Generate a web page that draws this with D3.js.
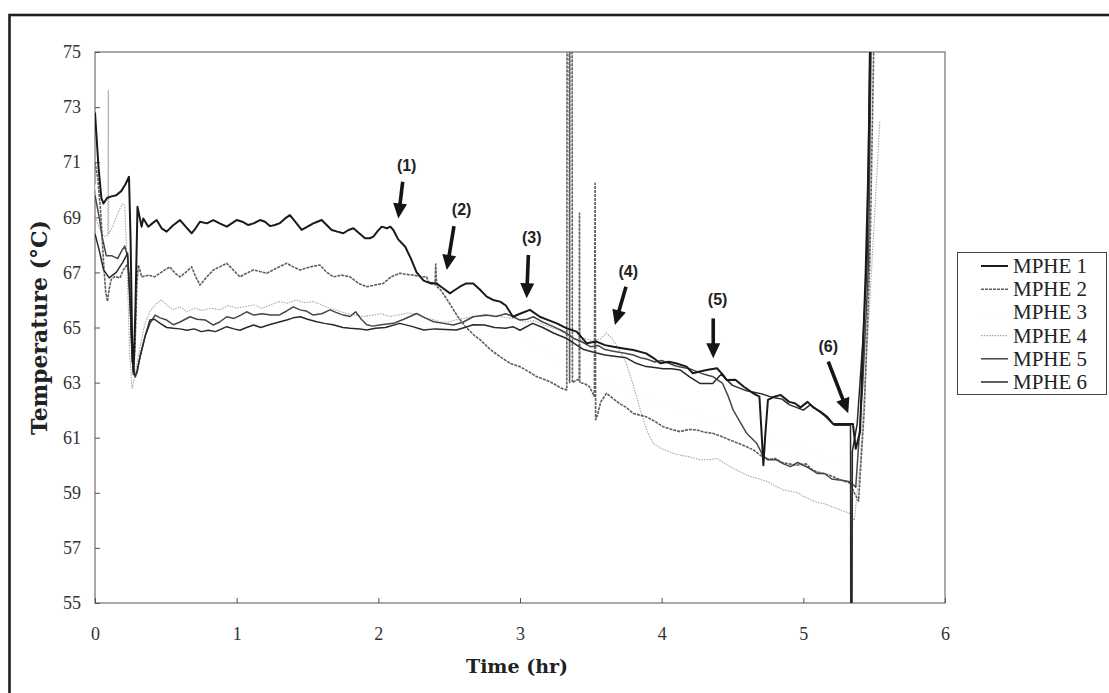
<!DOCTYPE html>
<html>
<head>
<meta charset="utf-8">
<script src="https://cdn.jsdelivr.net/npm/d3@7"></script>
<style>
  html, body { margin: 0; padding: 0; background: #ffffff; }
  svg { display: block; }
</style>
</head>
<body>
<svg id="chart" width="1109" height="693"></svg>
<script>
// ---- data -------------------------------------------------------------
const timeTicks = [0, 1, 2, 3, 4, 5, 6];
const tempTicks = [55, 57, 59, 61, 63, 65, 67, 69, 71, 73, 75];
const seriesNames = ["MPHE 1", "MPHE 2", "MPHE 3", "MPHE 4", "MPHE 5", "MPHE 6"];

// [time (hr), temperature (°C)]
const mphe1 = [[0.000,72.8],[0.010,72.0],[0.025,70.8],[0.045,69.7],[0.060,69.5],[0.085,69.7],[0.110,69.75],[0.150,69.8],[0.185,69.95],[0.215,70.2],[0.240,70.47],[0.252,68.0],[0.262,64.5],[0.272,63.4],[0.285,65.6],[0.300,69.38],[0.329,68.66],[0.341,68.96],[0.376,68.66],[0.405,68.78],[0.435,68.9],[0.470,68.6],[0.506,68.48],[0.550,68.7],[0.600,68.9],[0.640,68.66],[0.682,68.42],[0.710,68.6],[0.741,68.84],[0.790,68.78],[0.835,68.9],[0.880,68.78],[0.930,68.66],[0.965,68.78],[1.000,68.9],[1.040,68.84],[1.082,68.72],[1.120,68.78],[1.165,68.9],[1.200,68.84],[1.235,68.68],[1.270,68.72],[1.306,68.79],[1.340,68.95],[1.376,69.08],[1.420,68.8],[1.459,68.54],[1.500,68.66],[1.541,68.78],[1.570,68.84],[1.600,68.9],[1.635,68.72],[1.671,68.54],[1.710,68.48],[1.753,68.42],[1.790,68.54],[1.824,68.6],[1.865,68.42],[1.906,68.24],[1.940,68.24],[1.965,68.3],[1.995,68.5],[2.024,68.66],[2.060,68.6],[2.085,68.66],[2.106,68.54],[2.140,68.2],[2.190,67.93],[2.230,67.5],[2.270,67.0],[2.320,66.7],[2.360,66.62],[2.410,66.6],[2.450,66.45],[2.506,66.24],[2.540,66.36],[2.576,66.48],[2.620,66.6],[2.670,66.6],[2.720,66.36],[2.765,66.12],[2.810,66.0],[2.860,65.94],[2.900,65.8],[2.950,65.39],[3.000,65.5],[3.070,65.64],[3.140,65.39],[3.200,65.27],[3.260,65.15],[3.330,64.97],[3.400,64.85],[3.470,64.43],[3.540,64.49],[3.600,64.36],[3.660,64.3],[3.730,64.24],[3.800,64.18],[3.890,64.06],[3.940,63.9],[3.990,63.7],[4.050,63.76],[4.100,63.7],[4.176,63.58],[4.220,63.34],[4.270,63.4],[4.317,63.46],[4.390,63.52],[4.430,63.3],[4.460,63.09],[4.520,63.1],[4.580,62.85],[4.650,62.6],[4.690,62.49],[4.705,61.2],[4.718,60.0],[4.730,61.0],[4.750,62.37],[4.800,62.5],[4.840,62.55],[4.900,62.3],[4.940,62.25],[4.980,62.1],[5.030,62.3],[5.070,62.1],[5.120,61.95],[5.170,61.75],[5.210,61.5],[5.280,61.5],[5.350,61.5],[5.370,60.6],[5.400,61.2],[5.440,67.0],[5.460,71.0],[5.475,76.0]];

const mphe2 = [[0.000,71.0],[0.020,70.4],[0.040,69.2],[0.060,67.4],[0.075,66.3],[0.088,65.95],[0.100,66.4],[0.115,66.75],[0.140,66.85],[0.176,66.8],[0.200,67.09],[0.230,67.3],[0.245,66.8],[0.258,64.5],[0.270,63.3],[0.282,64.2],[0.295,66.5],[0.306,67.27],[0.330,66.84],[0.380,66.9],[0.420,66.84],[0.459,66.97],[0.495,67.1],[0.529,67.2],[0.565,66.97],[0.600,66.84],[0.640,67.0],[0.682,67.2],[0.710,66.85],[0.741,66.54],[0.790,66.84],[0.835,67.09],[0.880,67.2],[0.930,67.33],[0.975,67.09],[1.023,66.84],[1.070,66.97],[1.118,67.09],[1.165,67.03],[1.212,66.97],[1.280,67.15],[1.353,67.33],[1.400,67.2],[1.447,67.09],[1.520,67.2],[1.588,67.27],[1.630,67.03],[1.682,66.84],[1.740,66.9],[1.800,66.84],[1.860,66.6],[1.918,66.48],[1.975,66.54],[2.035,66.6],[2.090,66.84],[2.153,66.97],[2.200,66.93],[2.250,66.9],[2.300,66.84],[2.340,66.84],[2.360,66.6],[2.400,66.55],[2.405,67.3],[2.412,66.5],[2.440,66.36],[2.500,65.9],[2.560,65.4],[2.620,65.0],[2.680,64.7],[2.720,64.55],[2.790,64.2],[2.860,63.94],[2.930,63.7],[3.000,63.58],[3.060,63.4],[3.120,63.21],[3.180,63.1],[3.235,62.97],[3.290,62.8],[3.330,62.73],[3.333,80.0],[3.347,80.0],[3.350,63.0],[3.353,80.0],[3.367,80.0],[3.370,63.0],[3.400,63.1],[3.418,63.1],[3.420,69.15],[3.422,63.0],[3.460,62.95],[3.490,62.85],[3.525,62.5],[3.530,70.23],[3.534,61.65],[3.550,61.88],[3.570,62.3],[3.610,62.61],[3.650,62.45],[3.700,62.25],[3.750,62.1],[3.800,61.88],[3.890,61.76],[3.950,61.6],[4.010,61.4],[4.070,61.3],[4.130,61.22],[4.190,61.3],[4.250,61.28],[4.300,61.2],[4.360,61.16],[4.420,61.05],[4.480,60.92],[4.540,60.8],[4.600,60.67],[4.650,60.55],[4.700,60.35],[4.750,60.2],[4.800,60.25],[4.850,60.1],[4.900,60.05],[4.950,60.0],[5.020,60.05],[5.060,59.85],[5.100,59.75],[5.180,59.65],[5.250,59.5],[5.300,59.4],[5.330,59.35],[5.360,59.0],[5.390,58.7],[5.430,62.0],[5.470,67.5],[5.500,76.0]];

const mphe3 = [[0.000,70.2],[0.050,68.9],[0.100,67.9],[0.200,68.3],[0.240,68.0],[0.270,63.6],[0.320,64.3],[0.400,65.4],[0.600,65.3],[0.800,65.2],[1.000,65.3],[1.200,65.4],[1.400,65.6],[1.600,65.5],[1.800,65.3],[2.000,65.2],[2.200,65.3],[2.400,65.2],[2.600,65.2],[2.800,65.3],[3.000,65.2],[3.050,64.6],[3.200,64.0],[3.400,63.4],[3.600,63.0],[3.800,62.6],[4.000,62.2],[4.200,61.9],[4.400,61.6],[4.600,61.2],[4.800,60.9],[5.000,60.6],[5.200,60.2],[5.330,60.0],[5.380,59.5],[5.450,64.0],[5.540,70.2]];

const mphe4 = [[0.000,69.1],[0.030,68.6],[0.060,68.3],[0.090,68.35],[0.094,73.6],[0.097,68.4],[0.120,68.6],[0.150,69.0],[0.175,69.3],[0.195,69.5],[0.210,69.4],[0.225,67.5],[0.245,64.0],[0.262,62.8],[0.280,63.2],[0.300,63.8],[0.330,64.6],[0.353,65.15],[0.390,65.6],[0.435,65.88],[0.470,66.0],[0.510,65.8],[0.553,65.64],[0.600,65.76],[0.650,65.57],[0.700,65.7],[0.760,65.62],[0.820,65.7],[0.880,65.64],[0.940,65.8],[1.000,65.7],[1.060,65.76],[1.120,65.82],[1.180,65.7],[1.240,65.82],[1.300,65.94],[1.360,65.88],[1.420,66.0],[1.480,65.9],[1.540,65.94],[1.600,65.82],[1.660,65.7],[1.720,65.6],[1.780,65.5],[1.840,65.45],[1.900,65.4],[1.960,65.45],[2.020,65.5],[2.080,65.4],[2.140,65.45],[2.200,65.52],[2.260,65.5],[2.320,65.35],[2.380,65.3],[2.440,65.2],[2.500,65.2],[2.560,65.3],[2.620,65.35],[2.680,65.4],[2.740,65.4],[2.800,65.45],[2.860,65.4],[2.920,65.35],[2.980,65.3],[3.040,65.2],[3.100,65.25],[3.160,65.1],[3.220,65.0],[3.280,64.9],[3.340,64.7],[3.400,64.55],[3.460,64.6],[3.520,64.5],[3.570,64.6],[3.610,64.8],[3.650,64.6],[3.700,64.2],[3.750,63.7],[3.800,62.9],[3.850,62.0],[3.900,61.2],[3.940,60.8],[4.000,60.6],[4.050,60.5],[4.100,60.4],[4.150,60.35],[4.200,60.3],[4.270,60.2],[4.330,60.2],[4.390,60.25],[4.450,60.05],[4.500,59.9],[4.560,59.75],[4.620,59.6],[4.690,59.5],[4.750,59.4],[4.800,59.25],[4.860,59.1],[4.920,59.05],[4.960,59.0],[5.010,58.85],[5.050,58.75],[5.100,58.65],[5.150,58.6],[5.200,58.5],[5.250,58.4],[5.300,58.3],[5.330,58.25],[5.360,58.0],[5.400,60.0],[5.470,66.0],[5.540,72.5]];

const mphe5 = [[0.000,69.8],[0.030,69.0],[0.050,68.3],[0.080,67.6],[0.120,67.6],[0.160,67.5],[0.190,67.8],[0.210,67.95],[0.230,67.6],[0.250,65.5],[0.268,63.5],[0.285,63.2],[0.300,63.45],[0.318,63.94],[0.353,64.67],[0.388,65.15],[0.424,65.45],[0.460,65.35],[0.506,65.27],[0.553,65.1],[0.600,65.2],[0.670,65.39],[0.720,65.3],[0.780,65.27],[0.835,65.09],[0.880,65.2],[0.930,65.39],[0.980,65.33],[1.030,65.45],[1.070,65.57],[1.120,65.45],[1.180,65.5],[1.240,65.45],[1.300,65.45],[1.353,65.6],[1.400,65.75],[1.447,65.64],[1.490,65.6],[1.540,65.45],[1.600,65.5],[1.659,65.64],[1.700,65.55],[1.753,65.45],[1.800,65.4],[1.840,65.57],[1.880,65.3],[1.918,65.1],[1.960,65.05],[2.020,65.1],[2.106,65.15],[2.180,65.3],[2.270,65.51],[2.330,65.35],[2.390,65.21],[2.460,65.15],[2.530,65.09],[2.600,65.2],[2.670,65.39],[2.760,65.45],[2.830,65.4],[2.900,65.5],[2.950,65.4],[3.000,65.27],[3.050,65.3],[3.094,65.39],[3.160,65.2],[3.235,65.03],[3.290,64.9],[3.330,64.79],[3.380,64.6],[3.430,64.5],[3.500,64.3],[3.550,64.35],[3.600,64.2],[3.650,64.15],[3.700,64.1],[3.760,64.05],[3.800,64.0],[3.850,63.9],[3.900,63.85],[3.950,63.75],[4.000,63.8],[4.050,63.7],[4.100,63.6],[4.150,63.55],[4.200,63.5],[4.250,63.4],[4.300,63.3],[4.364,63.21],[4.430,62.97],[4.470,62.5],[4.505,62.0],[4.550,61.6],[4.600,61.16],[4.670,60.8],[4.720,60.3],[4.760,60.2],[4.810,60.2],[4.860,60.05],[4.910,59.95],[4.960,60.1],[5.000,60.0],[5.040,59.9],[5.100,59.7],[5.150,59.7],[5.200,59.5],[5.280,59.45],[5.330,59.4],[5.370,59.2],[5.420,63.0],[5.460,67.3],[5.480,76.0]];

const mphe6 = [[0.000,68.4],[0.030,67.8],[0.060,67.1],[0.100,66.8],[0.150,67.0],[0.200,67.4],[0.230,67.7],[0.248,66.0],[0.262,63.8],[0.280,63.25],[0.294,63.34],[0.318,63.94],[0.353,64.67],[0.388,65.27],[0.420,65.3],[0.460,65.15],[0.506,65.0],[0.553,64.97],[0.600,64.95],[0.650,64.9],[0.700,64.95],[0.750,64.85],[0.800,64.9],[0.850,64.85],[0.930,65.03],[0.980,64.95],[1.023,64.9],[1.070,65.0],[1.120,65.09],[1.170,65.0],[1.230,65.1],[1.300,65.2],[1.353,65.27],[1.400,65.35],[1.450,65.39],[1.500,65.3],[1.565,65.21],[1.620,65.15],[1.680,65.1],[1.750,65.0],[1.800,64.97],[1.870,64.95],[1.918,64.91],[1.980,64.97],[2.050,65.0],[2.150,65.15],[2.230,65.05],[2.320,64.91],[2.400,64.95],[2.550,64.91],[2.610,65.0],[2.670,65.1],[2.750,65.09],[2.820,65.0],[2.900,64.97],[2.950,65.03],[3.000,64.9],[3.090,65.15],[3.160,65.0],[3.240,64.79],[3.330,64.6],[3.390,64.4],[3.450,64.2],[3.520,64.1],[3.600,64.0],[3.680,63.95],[3.750,63.9],[3.820,63.7],[3.890,63.58],[3.950,63.55],[4.010,63.5],[4.070,63.5],[4.130,63.46],[4.200,63.2],[4.270,62.97],[4.320,62.97],[4.360,62.97],[4.420,63.3],[4.460,63.1],[4.500,62.9],[4.550,62.8],[4.600,62.7],[4.650,62.65],[4.700,62.6],[4.760,62.5],[4.800,62.45],[4.850,62.4],[4.900,62.2],[4.950,62.1],[5.000,62.0],[5.050,62.2],[5.100,62.0],[5.150,61.8],[5.220,61.45],[5.280,61.45],[5.333,61.45],[5.336,50.0],[5.342,50.0],[5.346,60.5],[5.380,61.5],[5.420,64.5],[5.450,67.3],[5.470,76.0]];

// numbered events: label, tail and tip of the pointer, in [time, temperature]
const eventLabels = ["(1)", "(2)", "(3)", "(4)", "(5)", "(6)"];
const eventLabelAt = [[2.200,70.90],[2.588,69.27],[3.083,68.28],[3.764,67.03],[4.395,66.03],[5.176,64.30]];
const eventTail    = [[2.172,70.29],[2.534,68.68],[3.059,67.63],[3.748,66.48],[4.364,65.33],[5.176,63.76]];
const eventTip     = [[2.141,68.96],[2.483,67.09],[3.047,66.06],[3.670,65.09],[4.364,63.88],[5.317,61.89]];

// ---- layout -----------------------------------------------------------
const svg = d3.select("#chart");
const plot = { left: 95, top: 52, right: 945, bottom: 603 };

const x = d3.scaleLinear().domain([0, 6]).range([plot.left, plot.right]);
const y = d3.scaleLinear().domain([55, 75]).range([plot.bottom, plot.top]);

const serif = "'Liberation Serif', 'Times New Roman', serif";
const titleFont = "'DejaVu Serif', serif";

// outer frame
svg.append("rect")
  .attr("x", 9.5).attr("y", 15).attr("width", 1200).attr("height", 800)
  .attr("fill", "none").attr("stroke", "#1e1e1e").attr("stroke-width", 2.6);

// plot border
svg.append("rect")
  .attr("x", plot.left).attr("y", plot.top)
  .attr("width", plot.right - plot.left).attr("height", plot.bottom - plot.top)
  .attr("fill", "none").attr("stroke", "#555").attr("stroke-width", 1);

// axes with inward ticks
const xAxis = d3.axisBottom(x).tickValues(timeTicks).tickFormat(d3.format("d"))
  .tickSizeInner(-5).tickSizeOuter(0).tickPadding(24);
const yAxis = d3.axisLeft(y).tickValues(tempTicks).tickFormat(d3.format("d"))
  .tickSizeInner(-5).tickSizeOuter(0).tickPadding(14);

const gx = svg.append("g").attr("transform", `translate(0,${plot.bottom})`).call(xAxis);
const gy = svg.append("g").attr("transform", `translate(${plot.left},0)`).call(yAxis);
[gx, gy].forEach(g => {
  g.select(".domain").remove();
  g.selectAll(".tick line").attr("stroke", "#555");
  g.selectAll(".tick text").attr("fill", "#333")
    .style("font-family", serif).style("font-size", "18px");
});

// axis titles
svg.append("text")
  .attr("x", (plot.left + plot.right) / 2 - 3).attr("y", 673)
  .attr("text-anchor", "middle")
  .style("font-family", titleFont).style("font-weight", "bold").style("font-size", "19px")
  .attr("fill", "#222").text("Time (hr)");

svg.append("text")
  .attr("transform", `translate(47,${(plot.top + plot.bottom) / 2}) rotate(-90)`)
  .attr("text-anchor", "middle")
  .style("font-family", titleFont).style("font-weight", "bold").style("font-size", "22px")
  .attr("fill", "#222").text("Temperature (°C)");

// ---- series -----------------------------------------------------------
const seriesData = [mphe1, mphe2, mphe3, mphe4, mphe5, mphe6];
const seriesStyle = [
  { color: "#1a1a1a", width: 2.0, dash: null },
  { color: "#5e5e5e", width: 1.6, dash: "3,1" },
  { color: "#fdfdfd", width: 1.0, dash: null },
  { color: "#a8a8a8", width: 1.1, dash: "1.5,1.2" },
  { color: "#474747", width: 1.5, dash: null },
  { color: "#2a2a2a", width: 1.5, dash: null }
];
const drawOrder = [2, 3, 1, 4, 5, 0];

svg.append("clipPath").attr("id", "plot-clip")
  .append("rect")
  .attr("x", plot.left).attr("y", plot.top)
  .attr("width", plot.right - plot.left).attr("height", plot.bottom - plot.top);

const line = d3.line().x(d => x(d[0])).y(d => y(d[1]));
const gLines = svg.append("g").attr("clip-path", "url(#plot-clip)");
drawOrder.forEach(i => {
  gLines.append("path")
    .datum(seriesData[i])
    .attr("d", line)
    .attr("fill", "none")
    .attr("stroke", seriesStyle[i].color)
    .attr("stroke-width", seriesStyle[i].width)
    .attr("stroke-dasharray", seriesStyle[i].dash)
    .attr("stroke-linejoin", "round");
});

// ---- event pointers ---------------------------------------------------
const gEv = svg.append("g");
eventLabels.forEach((lab, i) => {
  const x0 = x(eventTail[i][0]), y0 = y(eventTail[i][1]);
  const x1 = x(eventTip[i][0]),  y1 = y(eventTip[i][1]);
  const dx = x1 - x0, dy = y1 - y0, len = Math.hypot(dx, dy);
  const ux = dx / len, uy = dy / len, px = -uy, py = ux;
  const headLen = 15, headHalf = 7;
  const bx = x1 - ux * headLen, by = y1 - uy * headLen;
  gEv.append("line")
    .attr("x1", x0).attr("y1", y0).attr("x2", bx + ux).attr("y2", by + uy)
    .attr("stroke", "#151515").attr("stroke-width", 3.6);
  gEv.append("path")
    .attr("d", `M${x1},${y1}L${bx + px * headHalf},${by + py * headHalf}L${bx - px * headHalf},${by - py * headHalf}Z`)
    .attr("fill", "#151515");
  gEv.append("text")
    .attr("x", x(eventLabelAt[i][0])).attr("y", y(eventLabelAt[i][1]))
    .attr("dy", "0.35em").attr("text-anchor", "middle")
    .style("font-family", "'Liberation Sans', Arial, sans-serif")
    .style("font-weight", "bold").style("font-size", "16px")
    .attr("fill", "#222").text(lab);
});

// ---- legend -----------------------------------------------------------
const legend = svg.append("g");
legend.append("rect")
  .attr("x", 957.5).attr("y", 252.5).attr("width", 149).attr("height", 142)
  .attr("fill", "#fff").attr("stroke", "#444").attr("stroke-width", 1);
const rowY = d3.scalePoint().domain(seriesNames).range([266, 382]);
seriesNames.forEach((name, i) => {
  const ry = rowY(name);
  legend.append("line")
    .attr("x1", 981).attr("x2", 1008).attr("y1", ry).attr("y2", ry)
    .attr("stroke", seriesStyle[i].color)
    .attr("stroke-width", seriesStyle[i].width)
    .attr("stroke-dasharray", seriesStyle[i].dash);
  legend.append("text")
    .attr("x", 1013).attr("y", ry).attr("dy", "0.33em")
    .style("font-family", serif).style("font-size", "21px")
    .attr("fill", "#222").text(name);
});
</script>
</body>
</html>
